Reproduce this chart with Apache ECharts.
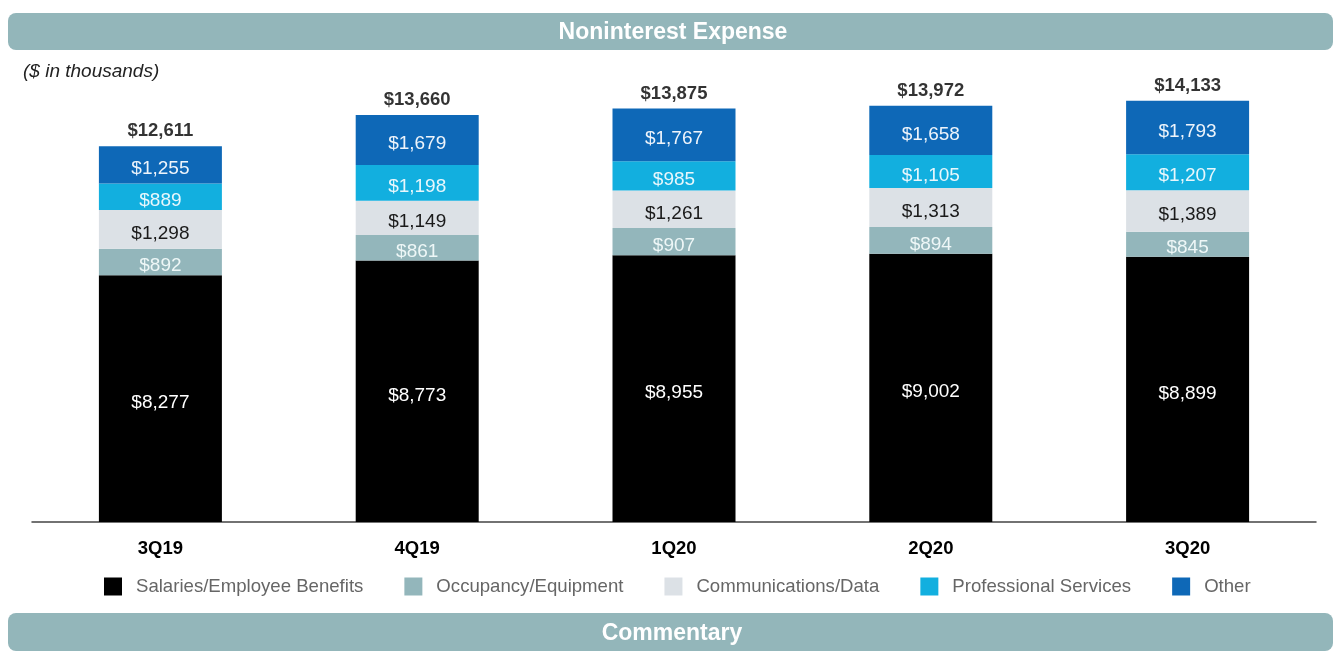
<!DOCTYPE html>
<html>
<head>
<meta charset="utf-8">
<title>Noninterest Expense</title>
<script src="https://cdn.jsdelivr.net/npm/echarts@6/dist/echarts.min.js"></script>
<style>
  html, body { margin: 0; padding: 0; background: #ffffff; }
  #chart { width: 1335px; height: 656px; }
</style>
</head>
<body>
<div id="chart"></div>
<script>
// Quarterly noninterest expense by component ($ in thousands)
const quarters = ['3Q19', '4Q19', '1Q20', '2Q20', '3Q20'];
const salaries = [8277, 8773, 8955, 9002, 8899];
const occupancy = [892, 861, 907, 894, 845];
const communications = [1298, 1149, 1261, 1313, 1389];
const professional = [889, 1198, 985, 1105, 1207];
const other = [1255, 1679, 1767, 1658, 1793];
const totals = [12611, 13660, 13875, 13972, 14133];

const FONT = '"Liberation Sans", Arial, Helvetica, sans-serif';
const fmt = v => '$' + Number(v).toLocaleString('en-US');

function segment(name, data, color, labelColor) {
  return {
    name: name,
    type: 'bar',
    stack: 'expense',
    data: data,
    barWidth: 123,
    itemStyle: { color: color },
    label: {
      show: true,
      position: 'inside',
      offset: [0, 4],
      color: labelColor,
      fontFamily: FONT,
      fontSize: 19,
      formatter: p => fmt(p.value)
    }
  };
}

const chart = echarts.init(document.getElementById('chart'), null, { renderer: 'canvas' });

chart.setOption({
  animation: false,
  backgroundColor: '#ffffff',
  textStyle: { fontFamily: FONT },
  graphic: [
    {
      type: 'rect', left: 8, top: 13,
      shape: { width: 1325, height: 37, r: 8 },
      style: { fill: '#93b6ba' }
    },
    {
      type: 'text', x: 673, y: 21,
      style: { text: 'Noninterest Expense', fill: '#ffffff', font: 'bold 23px ' + FONT, align: 'center', verticalAlign: 'top' }
    },
    {
      type: 'text', left: 23, top: 62,
      style: { text: '($ in thousands)', fill: '#222222', font: 'italic 19px ' + FONT }
    },
    {
      type: 'rect', left: 8, top: 613,
      shape: { width: 1325, height: 38, r: 8 },
      style: { fill: '#93b6ba' }
    },
    {
      type: 'text', x: 672, y: 622,
      style: { text: 'Commentary', fill: '#ffffff', font: 'bold 23px ' + FONT, align: 'center', verticalAlign: 'top' }
    }
  ],
  grid: { left: 32, right: 19, top: 75, bottom: 134, containLabel: false },
  legend: {
    data: ['Salaries/Employee Benefits', 'Occupancy/Equipment', 'Communications/Data', 'Professional Services', 'Other'],
    left: 104,
    top: 577,
    padding: 0,
    icon: 'rect',
    itemWidth: 18,
    itemHeight: 18,
    itemGap: 41,
    textStyle: { color: '#666666', fontSize: 18.6, fontFamily: FONT, padding: [0, 0, 0, 9] }
  },
  xAxis: {
    type: 'category',
    data: quarters,
    axisLine: { lineStyle: { color: '#444444', width: 1.5 } },
    axisTick: { show: false },
    axisLabel: { color: '#000000', fontWeight: 'bold', fontSize: 18.5, margin: 17, fontFamily: FONT }
  },
  yAxis: {
    type: 'value',
    min: 0,
    max: 15000,
    show: false,
    splitLine: { show: false }
  },
  series: [
    segment('Salaries/Employee Benefits', salaries, '#000000', '#ffffff'),
    segment('Occupancy/Equipment', occupancy, '#93b6bb', '#eef7f7'),
    segment('Communications/Data', communications, '#dce1e6', '#1a1a1a'),
    segment('Professional Services', professional, '#12afdf', '#e8f7fc'),
    segment('Other', other, '#0e68b7', '#eef4fb'),
    {
      name: 'Total',
      type: 'scatter',
      data: totals,
      symbolSize: 1,
      itemStyle: { color: 'rgba(0,0,0,0)' },
      z: 10,
      label: {
        show: true,
        position: 'top',
        distance: 5,
        color: '#000000',
        fontWeight: 'bold',
        fontSize: 18.5,
        fontFamily: FONT,
        formatter: p => fmt(p.value)
      }
    }
  ]
});
</script>
</body>
</html>
